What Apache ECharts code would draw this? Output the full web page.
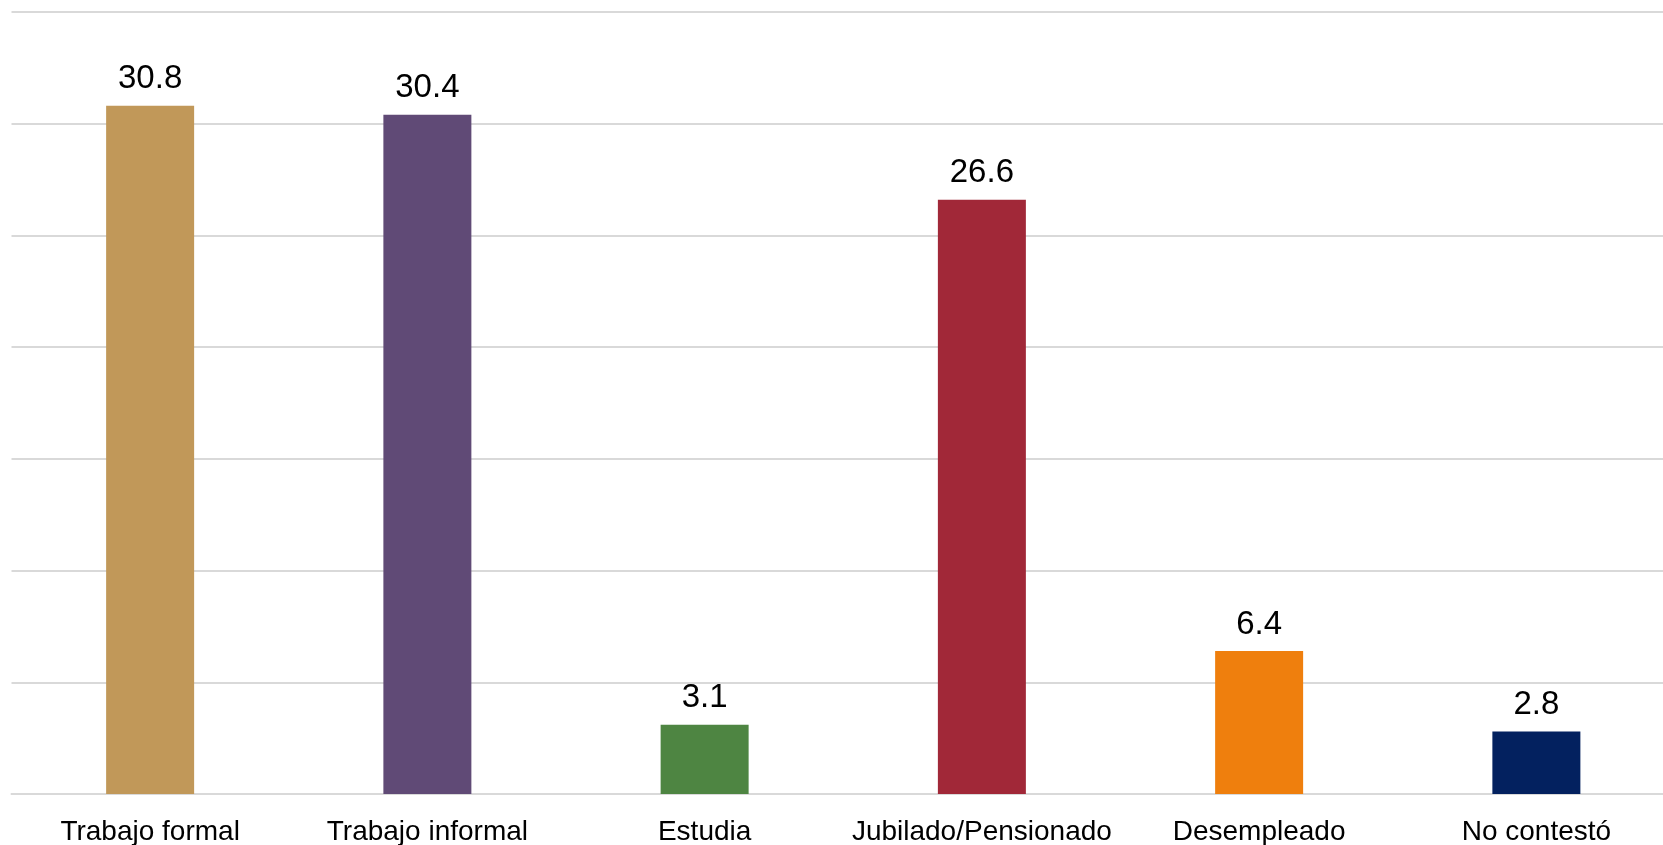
<!DOCTYPE html>
<html>
<head>
<meta charset="utf-8">
<script src="https://cdn.jsdelivr.net/npm/echarts@6/dist/echarts.min.js"></script>
<style>
html,body{margin:0;padding:0;background:#fff;}
#chart{width:1663px;height:845px;}
</style>
</head>
<body>
<div id="chart"></div>
<script>
const categories = ['Trabajo formal','Trabajo informal','Estudia','Jubilado/Pensionado','Desempleado','No contestó'];
const values = [30.8, 30.4, 3.1, 26.6, 6.4, 2.8];
const colors = ['#C19859','#604A76','#4E8542','#A12838','#EF7F0D','#03215F'];

const chart = echarts.init(document.getElementById('chart'));
chart.setOption({
  animation: false,
  grid: {left: 11.5, right: -12, top: 12, bottom: 51, containLabel: false, outerBoundsMode: 'none'},
  xAxis: {
    type: 'category',
    data: categories,
    axisLine: {lineStyle: {color: '#D9D9D9', width: 2}},
    axisTick: {show: false},
    axisLabel: {interval: 0, color: '#000', fontSize: 28, fontFamily: 'Liberation Sans, Arial, sans-serif', margin: 24}
  },
  yAxis: {
    type: 'value',
    min: 0, max: 35, interval: 5,
    axisLabel: {show: false},
    axisLine: {show: false},
    axisTick: {show: false},
    splitLine: {lineStyle: {color: '#D9D9D9', width: 2}}
  },
  series: [{
    type: 'bar',
    barWidth: 88,
    data: values.map((v, i) => ({value: v, itemStyle: {color: colors[i]}})),
    label: {
      show: true, position: 'top', distance: 10,
      color: '#000', fontSize: 33, fontFamily: 'Liberation Sans, Arial, sans-serif',
      formatter: p => p.value.toFixed(1)
    }
  }]
});
</script>
</body>
</html>
